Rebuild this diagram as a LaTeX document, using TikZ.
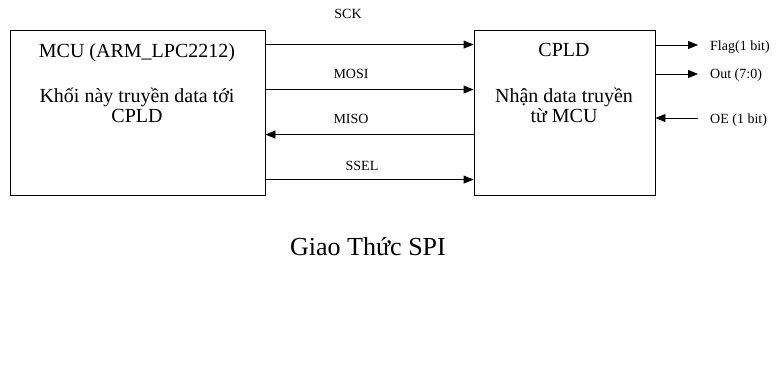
\documentclass[tikz,border=0pt]{standalone}
\usepackage{fontspec}
\setmainfont{Liberation Serif}
\usetikzlibrary{calc}
\usetikzlibrary{arrows.meta}

\begin{document}
\begin{tikzpicture}[x=1pt, y=-1pt,
    blk/.style={draw, line width=0.9pt, minimum height=165pt, inner sep=0pt},
    sig/.style={line width=0.9pt, -{Triangle[length=10pt,width=8pt]}},
    big/.style={font=\fontsize{20}{20}\selectfont},
    small/.style={font=\fontsize{14}{14}\selectfont, inner sep=0pt}]
    \useasboundingbox (0,0) rectangle (781,384);
    
    \node [blk, minimum width=255pt] (mcu) at (137.5,112.5) {};
    \node [blk, minimum width=181pt] (cpld) at (564.5,112.5) {};
    
    \node [big, anchor=base] (mcuname) at (137,57) {MCU (ARM\_LPC2212)};
    \node [big, anchor=base, align=center] (mcutext) at (137,122) {Khối này truyền data tới\\CPLD};
    \node [big, anchor=base] (cpldname) at (564,56) {CPLD};
    \node [big, anchor=base, align=center] (cpldtext) at (564,122) {Nhận data truyền\\từ MCU};
    
    \coordinate (s1) at ($(mcu.north east)+(0,15)$);
    \coordinate (s2) at ($(mcu.north east)+(0,60)$);
    \coordinate (s3) at ($(cpld.north west)+(0,105)$);
    \coordinate (s4) at ($(mcu.north east)+(0,150)$);
    \draw [sig] (s1) -- (s1 -| cpld.west);
    \draw [sig] (s2) -- (s2 -| cpld.west);
    \draw [sig] (s3) -- (s3 -| mcu.east);
    \draw [sig] (s4) -- (s4 -| cpld.west);
    \node [small, anchor=base] (sck) at (348,18) {SCK};
    \node [small, anchor=base] (mosi) at (351,78) {MOSI};
    \node [small, anchor=base] (miso) at (351,123) {MISO};
    \node [small, anchor=base] (ssel) at (362,170) {SSEL};
    
    \coordinate (o1) at (698,45);
    \coordinate (o2) at (698,74);
    \coordinate (o3) at (698,118);
    \draw [sig] (cpld.east |- o1) -- (o1);
    \draw [sig] (cpld.east |- o2) -- (o2);
    \draw [sig] (o3) -- (cpld.east |- o3);
    \node [small, anchor=base west] (flag) at (710,50) {Flag(1 bit)};
    \node [small, anchor=base west] (out) at (710,78) {Out (7:0)};
    \node [small, anchor=base west] (oe) at (710,123) {OE (1 bit)};
    
    \node [font=\fontsize{26}{26}\selectfont, anchor=base] (caption) at (368,255) {Giao Thức SPI};
    %\draw [red] (0,0) grid[step=50] (781,384);
\end{tikzpicture}
\end{document}
